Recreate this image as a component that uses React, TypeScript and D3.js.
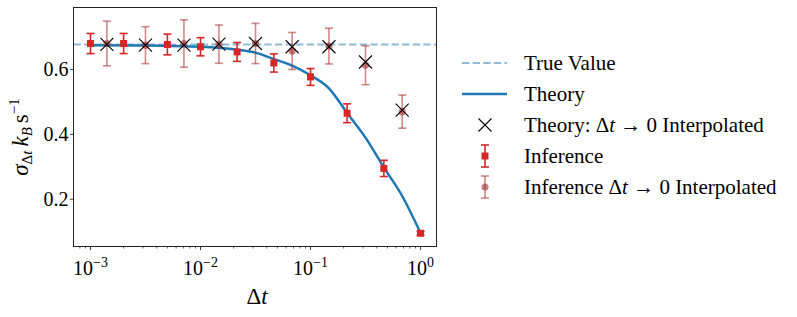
import React from "react";
import * as d3 from "d3";

// values
const trueValue = 0.677;

const inferDt = [0.001, 0.002, 0.005, 0.01, 0.0215, 0.0464, 0.1, 0.215, 0.464, 1];
const inferVal = [0.68, 0.68, 0.677, 0.67, 0.654, 0.62, 0.577, 0.465, 0.295, 0.095];
const inferErr = [0.031, 0.031, 0.032, 0.028, 0.029, 0.028, 0.026, 0.029, 0.025, 0.006];

const interpDt = [0.00141, 0.00316, 0.00707, 0.0147, 0.0316, 0.0681, 0.147, 0.316, 0.681];
const theoryInterpVal = [0.677, 0.675, 0.675, 0.678, 0.68, 0.67, 0.67, 0.623, 0.475];
const inferInterpVal = [0.68, 0.675, 0.68, 0.678, 0.68, 0.657, 0.672, 0.613, 0.47];
const inferInterpErr = [0.069, 0.057, 0.073, 0.059, 0.062, 0.057, 0.055, 0.06, 0.051];

const theoryDt = [0.001, 0.00316, 0.01, 0.0215, 0.0316, 0.0464, 0.0681, 0.1, 0.147, 0.215, 0.316, 0.464, 0.681, 1];
const theoryVal = [0.675, 0.674, 0.67, 0.661, 0.652, 0.632, 0.612, 0.582, 0.542, 0.466, 0.39, 0.298, 0.21, 0.096];

const xMajor = [0.001, 0.01, 0.1, 1];
const xMajorExp = ["−3", "−2", "−1", "0"];
const yTicks = [0.2, 0.4, 0.6];
const legendLabels = [
  "True Value",
  "Theory",
  "Theory: Δt → 0 Interpolated",
  "Inference",
  "Inference Δt → 0 Interpolated",
];

const W = 797;
const H = 317;
const plot = { left: 73.5, right: 436.5, top: 7.5, bottom: 246.5 };
const FONT = "'Liberation Serif', 'Times New Roman', Times, 'Nimbus Roman', 'Noto Serif', 'DejaVu Serif', FreeSerif, serif";
const BLUE = "#1f77b4";
const RED = "#d62728";
const BROWN = "#a52a2a";

const Cross = ({ cx, cy, r = 6.5 }: { cx: number; cy: number; r?: number }) => (
  <path
    d={`M${cx - r},${cy - r}L${cx + r},${cy + r}M${cx - r},${cy + r}L${cx + r},${cy - r}`}
    stroke="#000"
    strokeWidth={1.1}
    fill="none"
  />
);

const ErrBar = ({ cx, y0, y1, color, opacity = 1, cap = 4 }: any) => (
  <g stroke={color} strokeOpacity={opacity} strokeWidth={1.6} fill="none">
    <line x1={cx} x2={cx} y1={y0} y2={y1} />
    <line x1={cx - cap} x2={cx + cap} y1={y0} y2={y0} />
    <line x1={cx - cap} x2={cx + cap} y1={y1} y2={y1} />
  </g>
);

export default function App() {
  const x = d3
    .scaleLog()
    .domain([Math.pow(10, -3.1545), Math.pow(10, 0.145)])
    .range([plot.left, plot.right]);
  const y = d3.scaleLinear().domain([0.0543, 0.791]).range([plot.bottom, plot.top]);

  const line = d3
    .line<number>()
    .x((d, i) => x(theoryDt[i]))
    .y((d) => y(d))
    .curve(d3.curveMonotoneX);

  // minor ticks on log axis
  const minor: number[] = [];
  for (let e = -4; e <= 0; e++) {
    for (let m = 2; m <= 9; m++) {
      const v = m * Math.pow(10, e);
      const px = x(v);
      if (px >= plot.left && px <= plot.right) minor.push(v);
    }
  }

  const lx0 = 462;
  const lx1 = 507;
  const lxc = 485;
  const ly = [63, 94, 125, 156, 187];

  return (
    <div style={{ position: "fixed", left: 0, top: 0 }}>
      <svg width={W} height={H} style={{ display: "block", background: "#fff", fontFamily: FONT }}>
        {/* true value */}
        <line
          x1={plot.left}
          x2={plot.right}
          y1={y(trueValue)}
          y2={y(trueValue)}
          stroke={BLUE}
          strokeOpacity={0.5}
          strokeWidth={2}
          strokeDasharray="7.4 3.2"
        />
        {/* theory */}
        <path d={line(theoryVal) || ""} fill="none" stroke={BLUE} strokeWidth={2.5} />

        {/* inference */}
        {inferVal.map((v, i) => (
          <g key={"inf" + i}>
            <ErrBar cx={x(inferDt[i])} y0={y(v + inferErr[i])} y1={y(v - inferErr[i])} color={RED} />
            <rect x={x(inferDt[i]) - 3.5} y={y(v) - 3.5} width={7} height={7} fill={RED} />
          </g>
        ))}

        {/* inference interpolated */}
        {inferInterpVal.map((v, i) => (
          <g key={"ii" + i}>
            <ErrBar
              cx={x(interpDt[i])}
              y0={y(v + inferInterpErr[i])}
              y1={y(v - inferInterpErr[i])}
              color={BROWN}
              opacity={0.55}
            />
            <circle cx={x(interpDt[i])} cy={y(v)} r={3.6} fill={BROWN} fillOpacity={0.6} />
          </g>
        ))}

        {/* theory interpolated */}
        {theoryInterpVal.map((v, i) => (
          <Cross key={"ti" + i} cx={x(interpDt[i])} cy={y(v)} />
        ))}

        {/* frame */}
        <rect
          x={plot.left}
          y={plot.top}
          width={plot.right - plot.left}
          height={plot.bottom - plot.top}
          fill="none"
          stroke="#222"
          strokeWidth={1}
        />

        {/* x ticks */}
        {minor.map((v, i) => (
          <line key={"mn" + i} x1={x(v)} x2={x(v)} y1={plot.bottom} y2={plot.bottom + 2} stroke="#222" strokeWidth={0.7} />
        ))}
        {xMajor.map((v, i) => (
          <g key={"xm" + i}>
            <line x1={x(v)} x2={x(v)} y1={plot.bottom} y2={plot.bottom + 3.5} stroke="#222" strokeWidth={0.9} />
            <text x={x(v)} y={275} textAnchor="middle" fontSize={20} fill="#000">
              10
              <tspan fontSize={14} dy={-8}>
                {xMajorExp[i]}
              </tspan>
            </text>
          </g>
        ))}

        {/* y ticks */}
        {yTicks.map((v, i) => (
          <g key={"yt" + i}>
            <line x1={plot.left - 3.5} x2={plot.left} y1={y(v)} y2={y(v)} stroke="#222" strokeWidth={0.9} />
            <text x={plot.left - 5} y={y(v)} dy="0.35em" textAnchor="end" fontSize={20} fill="#000">
              {v.toFixed(1)}
            </text>
          </g>
        ))}

        {/* axis labels */}
        <text x={257} y={304} textAnchor="middle" fontSize={23} fill="#000">
          Δ<tspan fontStyle="italic">t</tspan>
        </text>
        <text transform="translate(28,137) rotate(-90)" textAnchor="middle" fontSize={23} fill="#000">
          <tspan fontStyle="italic">σ</tspan>
          <tspan fontSize={15} dy={4}>
            Δ<tspan fontStyle="italic">t</tspan>
          </tspan>
          <tspan dy={-4} dx={4} fontStyle="italic">
            k
          </tspan>
          <tspan fontSize={15} dy={4} fontStyle="italic">
            B
          </tspan>
          <tspan dy={-4} dx={4}>
            s
          </tspan>
          <tspan fontSize={15} dy={-9}>
            −1
          </tspan>
        </text>

        {/* legend */}
        <g>
          <line
            x1={lx0}
            x2={lx1}
            y1={ly[0]}
            y2={ly[0]}
            stroke={BLUE}
            strokeOpacity={0.5}
            strokeWidth={2}
            strokeDasharray="7.4 3.2"
          />
          <line x1={lx0} x2={lx1} y1={ly[1]} y2={ly[1]} stroke={BLUE} strokeWidth={2.5} />
          <Cross cx={lxc} cy={ly[2]} />
          <ErrBar cx={lxc} y0={ly[3] - 11} y1={ly[3] + 11} color={RED} />
          <rect x={lxc - 3.5} y={ly[3] - 3.5} width={7} height={7} fill={RED} />
          <ErrBar cx={lxc} y0={ly[4] - 11} y1={ly[4] + 11} color={BROWN} opacity={0.55} />
          <circle cx={lxc} cy={ly[4]} r={3.6} fill={BROWN} fillOpacity={0.6} />
          {legendLabels.map((t, i) => {
            const parts = t.split("Δt");
            return (
              <text key={"lg" + i} x={524} y={ly[i]} dy="0.35em" fontSize={21} fill="#000">
                {parts.length > 1 ? (
                  <>
                    {parts[0]}Δ<tspan fontStyle="italic">t</tspan>
                    {parts[1]}
                  </>
                ) : (
                  t
                )}
              </text>
            );
          })}
        </g>
      </svg>
    </div>
  );
}
